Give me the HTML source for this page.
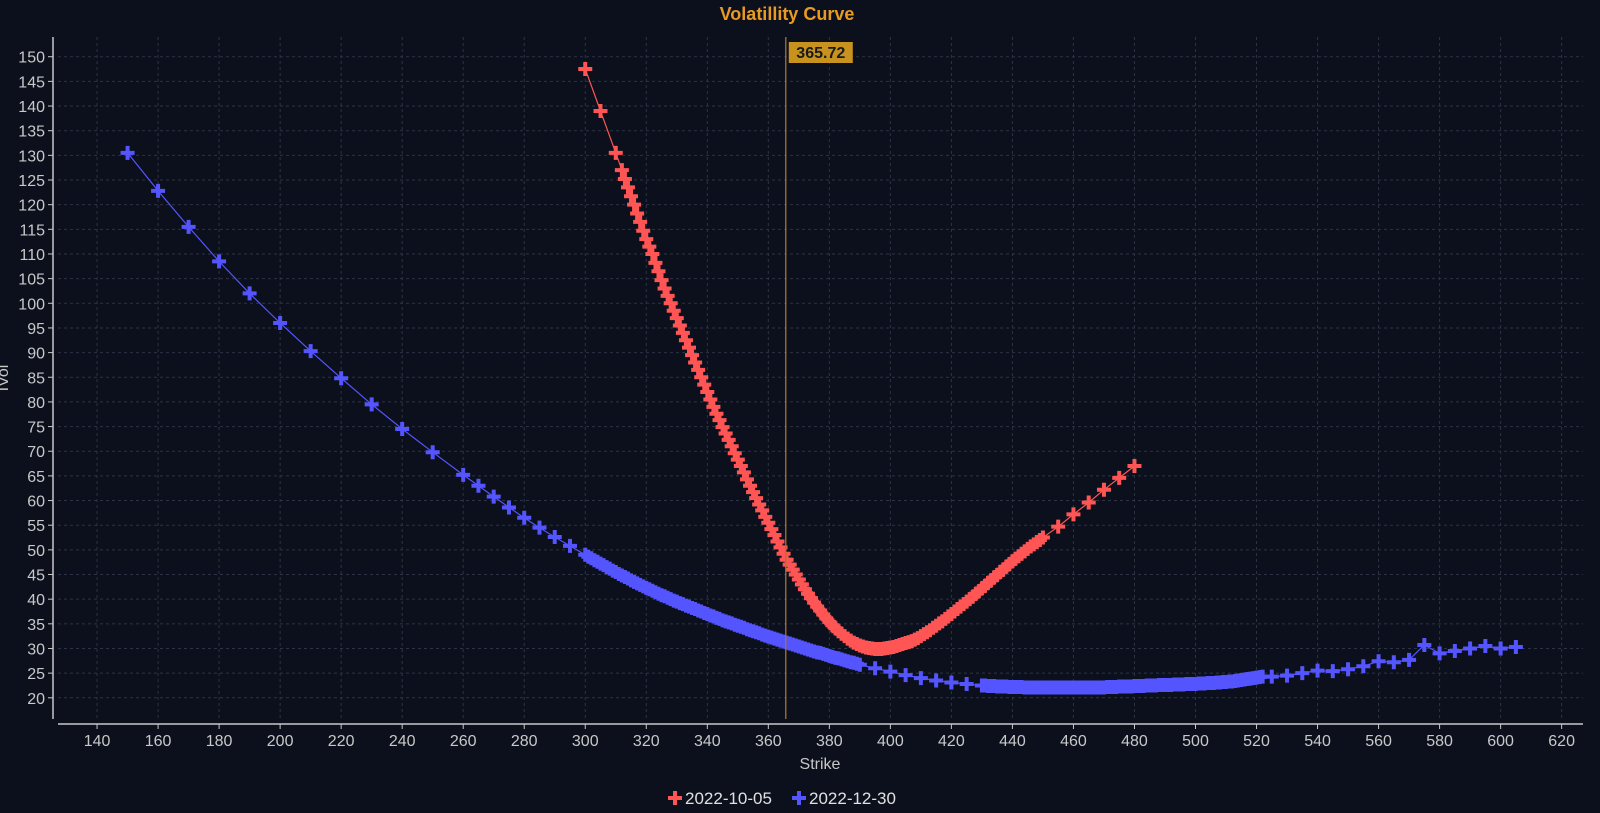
<!DOCTYPE html>
<html><head><meta charset="utf-8"><style>
html,body{margin:0;padding:0;background:#0b101c;}
svg{display:block;font-family:"Liberation Sans","DejaVu Sans",sans-serif;}
</style></head><body>
<svg id="chart" width="1600" height="813" viewBox="0 0 1600 813" xmlns="http://www.w3.org/2000/svg">
<rect width="1600" height="813" fill="#0b101c"/>
<text x="787" y="20" text-anchor="middle" font-size="18" font-weight="bold" fill="#e89a22">Volatillity Curve</text>
<g id="grid"></g>
<g id="axes"></g>
<g id="series"></g>
<text x="820" y="769" text-anchor="middle" font-size="16" fill="#c8c8c8">Strike</text>
<text transform="translate(8,378) rotate(-90)" text-anchor="middle" font-size="16" fill="#c8c8c8">IVol</text>
<g>
<g>
<path d="M668 798h14M675 791v14" stroke="#ff5555" stroke-width="4"/>
<text x="685" y="804" font-size="17" fill="#e0e0e0">2022-10-05</text>
</g>
<g>
<path d="M792 798h14M799 791v14" stroke="#5555ff" stroke-width="4"/>
<text x="809" y="804" font-size="17" fill="#e0e0e0">2022-12-30</text>
</g>
</g>
</svg>
<script>
const xTicks=[140,160,180,200,220,240,260,280,300,320,340,360,380,400,420,440,460,480,500,520,540,560,580,600,620];
const yTicks=[20,25,30,35,40,45,50,55,60,65,70,75,80,85,90,95,100,105,110,115,120,125,130,135,140,145,150];
const spotValue=365.72;
/* 2022-10-05 */
const redHeadStrikes=[300,305,310];
const redHeadVols=[147.5,139,130.5];
const redDenseStart=312;
const redDenseVols=[127,125.2,123.5,121.7,120,118.2,116.5,114.7,113,111.5,110,108.2,106.5,104.7,103,101.5,100,98.5,97,95.5,94,92.5,91,89.5,88,86.5,85,83.5,82,80.5,79,77.6,76.3,74.9,73.6,72.3,71,69.6,68.3,67,65.7,64.3,63,61.7,60.5,59.2,58,56.7,55.5,54.2,53,51.7,50.5,49.2,48,47,46,45,44,43,42,41.1,40.2,39.3,38.5,37.7,36.9,36.1,35.4,34.7,34.1,33.5,33,32.5,32,31.6,31.2,30.9,30.6,30.4,30.2,30.1,30,29.9,29.9,29.9,30,30.1,30.2,30.3,30.5,30.7,30.9,31.1,31.3,31.5,31.8,32.1,32.5,32.9,33.3,33.7,34.2,34.6,35.1,35.5,36,36.5,37,37.5,38,38.5,39,39.5,40,40.5,41.1,41.6,42.2,42.7,43.3,43.8,44.4,44.9,45.5,46,46.6,47.1,47.7,48.2,48.7,49.2,49.7,50.2,50.7,51.1,51.6,52,52.5];
const redTailStrikes=[455,460,465,470,475,480];
const redTailVols=[54.7,57.2,59.6,62.2,64.6,67];
/* 2022-12-30 */
const blueHeadStrikes=[150,160,170,180,190,200,210,220,230,240,250,260,265,270,275,280,285,290,295];
const blueHeadVols=[130.5,122.8,115.5,108.5,102,96,90.3,84.8,79.5,74.5,69.8,65.2,63,60.8,58.6,56.5,54.5,52.6,50.8];
const blueDense1Start=300;
const blueDense1Vols=[49,48.6,48.3,47.9,47.6,47.2,46.9,46.5,46.2,45.8,45.5,45.1,44.8,44.5,44.2,43.8,43.5,43.2,42.9,42.6,42.3,42,41.7,41.4,41.1,40.8,40.6,40.3,40,39.7,39.5,39.2,39,38.7,38.5,38.2,38,37.7,37.5,37.2,37,36.7,36.5,36.2,36,35.7,35.5,35.3,35.1,34.8,34.6,34.4,34.2,33.9,33.7,33.5,33.3,33.1,32.8,32.6,32.4,32.2,32,31.8,31.6,31.4,31.2,31,30.8,30.6,30.4,30.2,30,29.8,29.6,29.4,29.2,29.1,28.9,28.7,28.5,28.3,28.1,28,27.8,27.6,27.4,27.2,27.1,26.9,26.7];
const blueMidStrikes=[395,400,405,410,415,420,425];
const blueMidVols=[26,25.3,24.6,24,23.5,23.1,22.8];
const blueDense2Start=430;
const blueDense2Vols=[22.5,22.5,22.4,22.4,22.4,22.3,22.3,22.3,22.3,22.2,22.2,22.2,22.2,22.2,22.1,22.1,22.1,22.1,22.1,22.1,22.1,22.1,22.1,22.1,22.1,22.1,22.1,22.1,22.1,22.1,22.1,22.1,22.1,22.1,22.1,22.1,22.1,22.1,22.1,22.1,22.1,22.2,22.2,22.2,22.2,22.3,22.3,22.3,22.3,22.3,22.4,22.4,22.4,22.4,22.5,22.5,22.5,22.5,22.6,22.6,22.6,22.6,22.6,22.7,22.7,22.7,22.7,22.8,22.8,22.8,22.8,22.9,22.9,22.9,23,23,23,23.1,23.1,23.2,23.2,23.3,23.3,23.4,23.5,23.6,23.7,23.8,23.9,24,24.1,24.2,24.3];
const blueTailStrikes=[525,530,535,540,545,550,555,560,565,570,575,580,585,590,595,600,605];
const blueTailVols=[24.3,24.5,25,25.5,25.4,25.8,26.4,27.4,27.2,27.7,30.7,29,29.5,30,30.5,30,30.3];

const NS="http://www.w3.org/2000/svg";
const X0=58,X1=1583,Y0=719,Y1=37;
const xMin=127.2,xMax=627,yMin=15.7,yMax=154;
function xs(v){return X0+(v-xMin)/(xMax-xMin)*(X1-X0);}
function ys(v){return Y0-(v-yMin)/(yMax-yMin)*(Y0-Y1);}
function mk(tag,attrs,parent){const e=document.createElementNS(NS,tag);for(const k in attrs)e.setAttribute(k,attrs[k]);parent.appendChild(e);return e;}
const grid=document.getElementById('grid'),axes=document.getElementById('axes'),series=document.getElementById('series'),svg=document.getElementById('chart');

xTicks.forEach(t=>{
  const l=mk('line',{x1:xs(t),x2:xs(t),y1:Y1,y2:Y0,stroke:'#2c3344','stroke-width':1,'stroke-dasharray':'3,3'},grid);
  
  
  const tk=mk('line',{x1:xs(t),x2:xs(t),y1:724,y2:729,stroke:'#c8c8c8'},axes);
  
  
  const tx=mk('text',{x:xs(t),y:746,'text-anchor':'middle','font-size':16,fill:'#c8c8c8'},axes);
  tx.textContent=t;
  
  
});
yTicks.forEach(t=>{
  const l=mk('line',{x1:X0,x2:X1,y1:ys(t),y2:ys(t),stroke:'#2c3344','stroke-width':1,'stroke-dasharray':'3,3'},grid);
  
  
  const tk=mk('line',{x1:48,x2:53,y1:ys(t),y2:ys(t),stroke:'#c8c8c8'},axes);
  
  
  const tx=mk('text',{x:45,y:ys(t)+6,'text-anchor':'end','font-size':16,fill:'#c8c8c8'},axes);
  tx.textContent=t;
  
  
});
const ya=mk('line',{x1:53,x2:53,y1:37,y2:719,stroke:'#c8c8c8','stroke-width':1.5},axes);


const xa=mk('line',{x1:58,x2:1583,y1:724,y2:724,stroke:'#c8c8c8','stroke-width':1.5},axes);



function denseStrikes(start,vols){return vols.map((v,i)=>start+i);}
const redStrikes=[].concat(redHeadStrikes,denseStrikes(redDenseStart,redDenseVols),redTailStrikes);
const redVols=[].concat(redHeadVols,redDenseVols,redTailVols);
const blueStrikes=[].concat(blueHeadStrikes,denseStrikes(blueDense1Start,blueDense1Vols),blueMidStrikes,denseStrikes(blueDense2Start,blueDense2Vols),blueTailStrikes);
const blueVols=[].concat(blueHeadVols,blueDense1Vols,blueMidVols,blueDense2Vols,blueTailVols);

function drawSeries(strikes,vols,color,name){
  const g=mk('g',{},series);
  
  
  const pts=strikes.map((s,i)=>xs(s).toFixed(1)+','+ys(vols[i]).toFixed(1)).join(' ');
  const pl=mk('polyline',{points:pts,fill:'none',stroke:color,'stroke-width':1.2},g);
  
  
  strikes.forEach((s,i)=>{
    const x=xs(s),y=ys(vols[i]);
    const p=mk('path',{d:`M${x-7} ${y}h14M${x} ${y-7}v14`,stroke:color,'stroke-width':4},g);
    
    
  });
}
drawSeries(blueStrikes,blueVols,'#5555ff','series-2022-12-30');
drawSeries(redStrikes,redVols,'#ff5555','series-2022-10-05');

const sx=xs(spotValue);
const sl=mk('line',{x1:sx,x2:sx,y1:37,y2:719,stroke:'#a8742a','stroke-width':1.3},svg);


const sb=mk('rect',{x:sx+3,y:42,width:64,height:21,fill:'#c8921e'},svg);


const st=mk('text',{x:sx+35,y:58,'text-anchor':'middle','font-size':16,'font-weight':'bold',fill:'#1a1a1a'},svg);
st.textContent=spotValue.toFixed(2);


</script>
</body></html>
